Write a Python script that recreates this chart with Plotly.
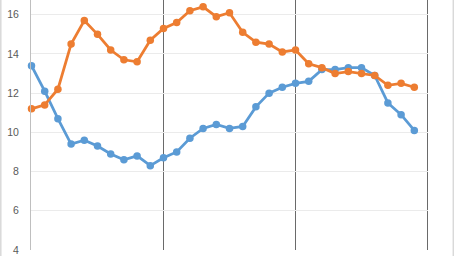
import plotly.graph_objects as go

x_idx = list(range(30))
blue = [13.4, 12.1, 10.7, 9.4, 9.6, 9.3, 8.9, 8.6, 8.8, 8.3,
        8.7, 9.0, 9.7, 10.2, 10.4, 10.2, 10.3, 11.3, 12.0, 12.3,
        12.5, 12.6, 13.2, 13.2, 13.3, 13.3, 12.9, 11.5, 10.9, 10.1]
orange = [11.2, 11.4, 12.2, 14.5, 15.7, 15.0, 14.2, 13.7, 13.6, 14.7,
          15.3, 15.6, 16.2, 16.4, 15.9, 16.1, 15.1, 14.6, 14.5, 14.1,
          14.2, 13.5, 13.3, 13.0, 13.1, 13.0, 12.9, 12.4, 12.5, 12.3]
y_ticks = [4, 6, 8, 10, 12, 14, 16]
vlines = [10, 20, 30]

BLUE = "#5B9BD5"
ORANGE = "#ED7D31"

fig = go.Figure()
fig.add_trace(go.Scatter(x=x_idx, y=blue, mode="lines+markers",
                         line=dict(color=BLUE, width=2.75),
                         marker=dict(color=BLUE, size=7.5),
                         cliponaxis=False, showlegend=False))
fig.add_trace(go.Scatter(x=x_idx, y=orange, mode="lines+markers",
                         line=dict(color=ORANGE, width=2.75),
                         marker=dict(color=ORANGE, size=7.5),
                         cliponaxis=False, showlegend=False))

L, R, T, B = 31, 26, 0, 6
W, H = 454, 256
pw = W - L - R
px = 13.2
x0 = -0.5 / px
x1 = x0 + pw / px

shapes = []
for v in vlines:
    shapes.append(dict(type="line", xref="x", yref="paper", x0=v, x1=v, y0=0, y1=1,
                       line=dict(color="#6A6A6A", width=1), layer="below"))
# outer chart border lines
shapes.append(dict(type="line", xref="paper", yref="paper",
                   x0=(0.8 - L) / pw, x1=(0.8 - L) / pw, y0=-1, y1=2,
                   line=dict(color="#D9D9D9", width=1.5)))
shapes.append(dict(type="line", xref="paper", yref="paper",
                   x0=(453.3 - L) / pw, x1=(453.3 - L) / pw, y0=-1, y1=2,
                   line=dict(color="#D9D9D9", width=1.5)))

fig.update_layout(
    width=W, height=H,
    margin=dict(l=L, r=R, t=T, b=B, pad=0),
    paper_bgcolor="white", plot_bgcolor="white",
    shapes=shapes,
    xaxis=dict(range=[x0, x1], showgrid=False, zeroline=False,
               showticklabels=False, showline=False, fixedrange=True),
    yaxis=dict(range=[4, 16.75], tickvals=y_ticks, showgrid=True,
               gridcolor="#EBEBEB", gridwidth=1, zeroline=False,
               showline=True, linecolor="#BFBFBF", linewidth=1,
               ticks="", ticklabelstandoff=9,
               tickfont=dict(family="Liberation Sans", size=10.5, color="#595959")),
)

fig.write_html("out.html")
